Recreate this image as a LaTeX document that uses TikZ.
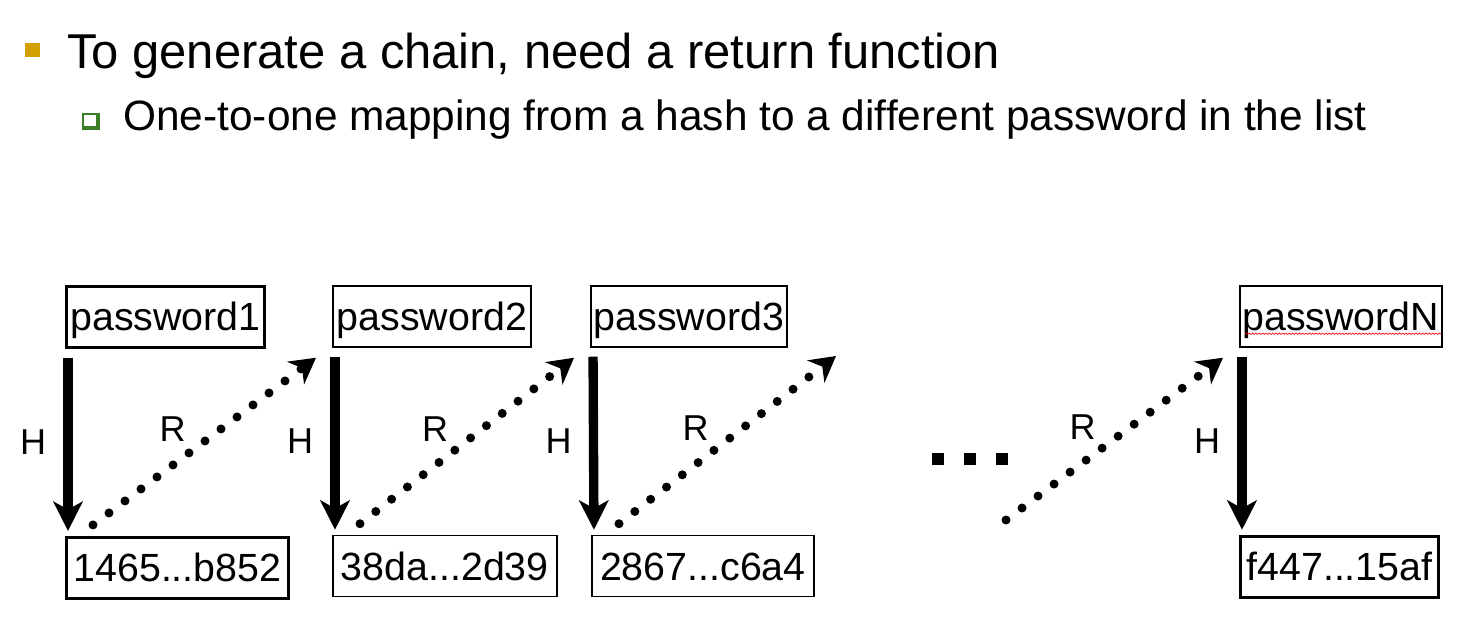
\documentclass[tikz,border=0pt]{standalone}
\usepackage{fontspec}
\setmainfont{Liberation Sans}
\usetikzlibrary{arrows.meta,positioning,calc,decorations.pathmorphing}
\definecolor{bulletgold}{RGB}{210,160,0}
\definecolor{bulletgreen}{RGB}{60,125,40}

\begin{document}
\begin{tikzpicture}[
  x=0.75pt, y=-0.75pt,
  box/.style={draw, line width=1.3pt, inner sep=0pt, anchor=north west,
              minimum height=45.75pt, text height=21pt, text depth=0pt,
              font=\fontsize{29.5}{36}\selectfont},
  boldbox/.style={box, line width=2.2pt},
  harr/.style={-{Stealth[length=22pt, width=22pt, inset=6pt]}, line width=7pt,
               shorten <=6.75pt, shorten >=3.75pt},
  rarr/.style={-{Stealth[length=19pt, width=21pt, inset=6pt]}, line width=6.75pt,
               line cap=round, dash pattern=on 0pt off 15pt},
  lbl/.style={inner sep=0pt, font=\fontsize{27}{32}\selectfont}
]
\useasboundingbox (0,0) rectangle (1467,627);

% bullets and text
\fill[bulletgold] (25,43) rectangle (40,57);
\fill[bulletgreen] (82,113) rectangle (100,130);
\fill[white] (84,115) rectangle (95.5,126.5);
\node[anchor=base west, inner sep=0pt, font=\fontsize{36.7}{44}\selectfont] (title) at (67,69)
  {To generate a chain, need a return function};
\node[anchor=base west, inner sep=0pt, font=\fontsize{31.8}{38}\selectfont] (sub) at (123,131)
  {One-to-one mapping from a hash to a different password in the list};

% passwords
\node[boldbox, minimum width=148.5pt] (pw1) at (65,285) {password1};
\node[box, minimum width=148.5pt] (pw2) at (332,285) {password2};
\node[box, minimum width=147pt] (pw3) at (590,285) {password3};
\node[box, minimum width=151.5pt] (pwN) at (1239,285) {passwordN};

% hashes
\node[boldbox, minimum width=166.5pt, below right=140.25pt and 0pt of pw1.south west] (h1) {1465...b852};
\node[box, minimum width=168pt, below right=140.25pt and 0pt of pw2.south west] (h2) {38da...2d39};
\node[box, minimum width=166.5pt, below right=140.25pt and 0.75pt of pw3.south west] (h3) {2867...c6a4};
\node[boldbox, minimum width=148.5pt, below right=140.25pt and 0pt of pwN.south west] (hN) {f447...15af};

\draw[red, line width=0.5pt, decorate, decoration={snake, amplitude=0.5pt, segment length=2.5pt}]
  ([xshift=4.5pt, yshift=10.5pt]pwN.south west) -- ([xshift=-1pt, yshift=10.5pt]pwN.south east);

\node[inner sep=0pt] (dots) at (969.5,459)
  {\rule{9pt}{9pt}\hspace{15pt}\rule{9pt}{9pt}\hspace{15pt}\rule{9pt}{9pt}};

\coordinate (open3) at (836,356);
\coordinate (openN) at (1006,520);

% H steps
\foreach \p/\h in {pw1/h1, pw2/h2, pw3/h3, pwN/hN}
  \draw[harr] ([xshift=2.25pt]\p.south west) -- ([xshift=2.25pt]\h.north west)
    node[lbl, midway, left=13pt] {H};

% R steps
\foreach \h/\p in {h1/pw2, h2/pw3}
  \draw[rarr] ([xshift=21pt, yshift=8.25pt]\h.north west) -- ([xshift=-12pt, yshift=-7.5pt]\p.south west)
    node[lbl, midway, xshift=-24pt, yshift=9pt] {R};
\draw[rarr] ([xshift=21pt, yshift=8.25pt]h3.north west) -- (open3)
  node[lbl, midway, xshift=-24pt, yshift=9pt] {R};
\draw[rarr] (openN) -- ([xshift=-12pt, yshift=-7.5pt]pwN.south west)
  node[lbl, midway, xshift=-24pt, yshift=9pt] {R};
\end{tikzpicture}
\end{document}
